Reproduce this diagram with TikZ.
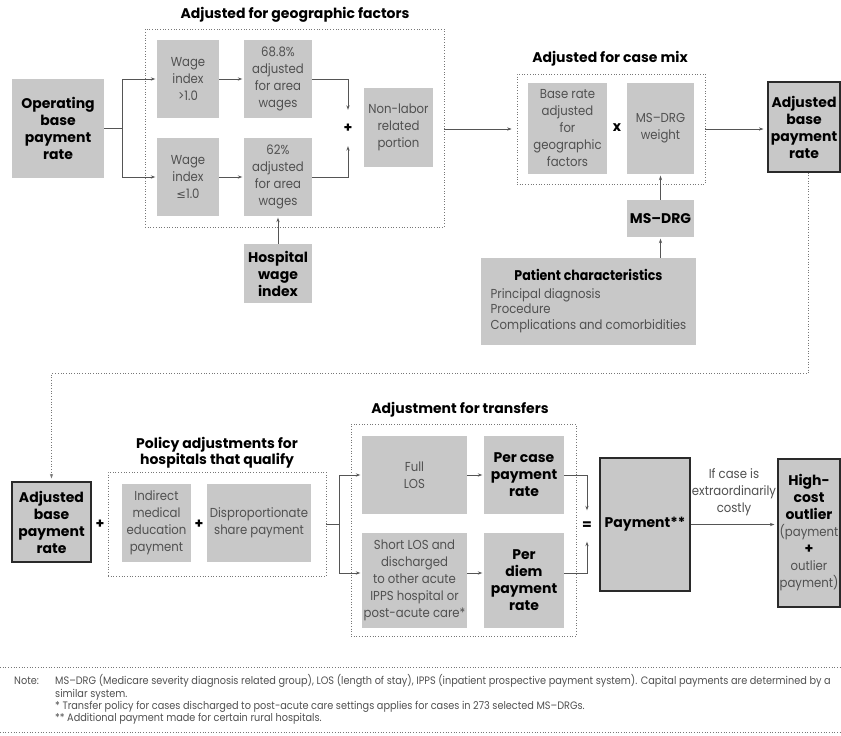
\documentclass[tikz,border=0pt]{standalone}
\usepackage{fontspec}
\usetikzlibrary{arrows.meta,calc}
\setmainfont{Poppins}
\newfontfamily\thinfont{Poppins}[FakeStretch=0.9]
\newfontfamily\notefont{Poppins}[FakeStretch=0.9]
\newfontfamily\symfont{DejaVu Sans}
\definecolor{boxgray}{HTML}{C8C8C8}
\definecolor{txtgray}{HTML}{505050}
\definecolor{linecol}{HTML}{555555}
\definecolor{edgecol}{HTML}{2A2A2A}
\definecolor{dotcol}{HTML}{777777}
\newcommand\regtext{\thinfont\mdseries\fontsize{13}{17}\selectfont\color{txtgray}}
\newcommand\boldtext{\bfseries\fontsize{14}{17}\selectfont\color{black}}
\newcommand\headtext{\bfseries\fontsize{14}{14.5}\selectfont\color{black}}
\newcommand\smalltext{\notefont\mdseries\fontsize{10.8}{12.4}\selectfont\color{txtgray}}
\begin{document}
\begin{tikzpicture}[x=1pt,y=-1pt,
  box/.style={fill=boxgray, inner sep=0pt, align=center, font=\regtext},
  bbox/.style={box, font=\boldtext},
  keybox/.style={bbox, draw=edgecol, line width=1.1pt},
  grp/.style={draw=dotcol, dotted, line width=0.7pt, inner sep=0pt},
  conn/.style={draw=linecol, line width=0.8pt},
  arr/.style={conn, -{Stealth[length=4.5pt,width=3.2pt]}, shorten >=1.5pt},
  dotarr/.style={draw=dotcol, dotted, line width=0.7pt, -{Stealth[length=4.5pt,width=3.2pt]}, shorten >=3pt},
  opsign/.style={font=\boldtext, inner sep=0pt, minimum width=8pt},
  heading/.style={font=\headtext, align=center, inner sep=0pt},
  note/.style={font=\smalltext, align=left, inner sep=0pt, anchor=north west}
]
\fill[white] (0,0) rectangle (841,736);
\useasboundingbox (0,0) rectangle (841,736);

% ---- geographic adjustment ----
\node[grp, minimum width=299pt, minimum height=198pt] (geo) at (294.5,128) {};
\node[heading] (geot) at (295,15) {Adjusted for geographic factors};
\node[bbox, minimum width=92pt, minimum height=99pt] (op) at (58,128.5) {Operating\\base\\payment\\rate};
\node[box, minimum width=62pt, minimum height=78pt] (wg1) at (188,79) {Wage\\index\\>1.0};
\node[box, minimum width=62pt, minimum height=78pt] (wg2) at (188,177) {Wage\\index\\{\symfont\fontsize{11.5}{17}\selectfont ≤}1.0};
\node[box, minimum width=68pt, minimum height=78pt] (pa) at (278,79) {68.8\%\\adjusted\\for area\\wages};
\node[box, minimum width=68pt, minimum height=78pt] (pb) at (278,177) {62\%\\adjusted\\for area\\wages};
\node[box, minimum width=69pt, minimum height=79pt] (nl) at (398.5,127.5) {Non-labor\\related\\portion};
\node[opsign, minimum height=33pt] (plusa) at (348,128) {+};
\node[bbox, minimum width=68pt, minimum height=59pt] (hwi) at (278,273.5) {Hospital\\wage\\index};

\draw[conn] (op.east) -- ++(18,0) coordinate (ja);
\draw[arr] (ja) |- (wg1.west);
\draw[arr] (ja) |- (wg2.west);
\draw[arr] (wg1.east) -- (pa.west);
\draw[arr] (wg2.east) -- (pb.west);
\draw[arr] (pa.east) -| (plusa.north);
\draw[arr] (pb.east) -| (plusa.south);
\draw[arr] (hwi.north) -- (pb.south);

% ---- case mix ----
\node[grp, minimum width=188pt, minimum height=110pt] (cm) at (611,129) {};
\node[heading] (cmt) at (610,59) {Adjusted for case mix};
\node[box, minimum width=79pt, minimum height=91pt] (br) at (567.5,128.5) {Base rate\\adjusted\\for\\geographic\\factors};
\node[box, minimum width=67pt, minimum height=91pt] (wt) at (660.5,128.5) {MS–DRG\\weight};
\node[opsign] (times) at (617,128) {x};
\node[bbox, minimum width=67pt, minimum height=37pt] (drg) at (660.5,218.5) {MS–DRG};
\node[box, minimum width=215pt, minimum height=87pt] (pc) at (588.5,301.5)
  {\begin{tabular}{@{}l@{}}\multicolumn{1}{@{}c@{}}{\boldtext Patient characteristics}\\[1pt]
   Principal diagnosis\\[-1.5pt] Procedure\\[-1.5pt] Complications and comorbidities\end{tabular}};
\node[keybox, minimum width=72pt, minimum height=90pt] (adja) at (804,127) {Adjusted\\base\\payment\\rate};

\draw[arr, shorten >=5pt] (geo.east |- cm.west) -- (cm.west);
\draw[arr, shorten >=4pt] (cm.east) -- (cm.east -| adja.west);
\draw[arr] (drg.north) -- (wt.south);
\draw[arr] (drg.south |- pc.north) -- (drg.south);

% ---- lower row ----
\node[keybox, minimum width=79pt, minimum height=80pt] (adjb) at (51.5,522) {Adjusted\\base\\payment\\rate};
\draw[dotarr] ($(adja.south)+(4,0)$) |- ($(adjb.north)+(0,-108)$) -- (adjb.north);
\node[opsign] (plusb) at (100,524) {+};

\node[grp, minimum width=218pt, minimum height=104pt] (pol) at (217,524) {};
\node[heading] (polt) at (217,453) {Policy adjustments for\\hospitals that qualify};
\node[box, minimum width=69pt, minimum height=78pt] (ime) at (156.5,523) {Indirect\\medical\\education\\payment};
\node[opsign] (plusc) at (199,524) {+};
\node[box, minimum width=104pt, minimum height=78pt] (dsh) at (259,523) {Disproportionate\\share payment};

\node[grp, minimum width=225pt, minimum height=212pt] (tr) at (463.5,530) {};
\node[heading] (trt) at (460,410) {Adjustment for transfers};
\node[box, minimum width=105pt, minimum height=78pt] (full) at (414.5,475) {Full\\LOS};
\node[bbox, minimum width=80pt, minimum height=78pt] (pcase) at (524,475) {Per case\\payment\\rate};
\node[box, minimum width=105pt, minimum height=95pt] (short) at (414.5,580.5) {Short LOS and\\discharged\\to other acute\\IPPS hospital or\\post-acute care*};
\node[bbox, minimum width=80pt, minimum height=95pt] (pdiem) at (524,580.5) {Per\\diem\\payment\\rate};
\node[opsign, minimum height=28pt] (eq) at (587,526) {=};
\node[keybox, minimum width=90pt, minimum height=133pt] (pay) at (645,524.5) {Payment**};
\node[keybox, minimum width=62pt, minimum height=148pt] (hco) at (809,533)
  {High-\\cost\\outlier\\\regtext(payment\\+\\\regtext outlier\\\regtext payment)};

\draw[conn] (pol.east) -- ++(13,0) coordinate (jb);
\draw[arr] (jb) |- (full.west);
\draw[arr] (jb) |- ($(short.west)+(0,-7.5)$);
\draw[arr] (full.east) -- (pcase.west);
\draw[arr] ($(short.east)+(0,-7.5)$) -- ($(pdiem.west)+(0,-7.5)$);
\draw[arr] (pcase.east) -| (eq.north);
\draw[arr] ($(pdiem.east)+(0,-7.5)$) -| (eq.south);
\draw[arr, shorten >=3pt] (pay.east) -- (pay.east -| hco.west)
  node[midway, above=8pt, font=\regtext, align=center, inner sep=0pt] (cond) {If case is\\extraordinarily\\costly};

% ---- notes ----
\draw[dotcol, dotted, line width=0.7pt] (0,667) -- (841,667);
\draw[dotcol, dotted, line width=0.7pt] (0,732) -- (841,732);
\node[note] (notel) at (14,674.5) {Note:\vphantom{()}};
\node[note] (notes) at (55,674.5) {MS–DRG (Medicare severity diagnosis related group), LOS (length of stay), IPPS (inpatient prospective payment system). Capital payments are determined by a\\
similar system.\\
* Transfer policy for cases discharged to post-acute care settings applies for cases in 273 selected MS–DRGs.\\
** Additional payment made for certain rural hospitals.};
\end{tikzpicture}
\end{document}
